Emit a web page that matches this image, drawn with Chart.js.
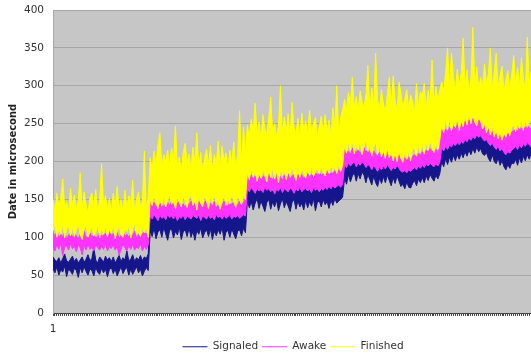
<!DOCTYPE html>
<html>
<head>
<meta charset="utf-8">
<script src="https://cdn.jsdelivr.net/npm/chart.js@4/dist/chart.umd.min.js"></script>
<style>
  html, body { margin: 0; padding: 0; background: #ffffff; overflow: hidden; }
  #wrap { width: 586px; height: 362px; }
</style>
</head>
<body>
<div id="wrap"><canvas id="chart" width="586" height="362"></canvas></div>
<script>
// Wake-up latency bands (microseconds): five load levels, 50 samples each.
// Each series is kept as its lower and upper envelope per sample.

const signaledLow = [
  58,53,61,50,57,54,62,48,58,55, 51,59,56,47,60,53,61,55,50,58,
  56,49,60,54,51,59,53,58,48,57, 60,52,58,49,55,61,52,57,60,50,
  58,51,56,61,53,58,49,55,60,56,
  108,101,112,98,107,110,100,113,104,96, 109,111,99,108,103,113,97,107,110,101,
  112,100,108,96,109,104,112,99,106,110, 101,111,97,108,102,110,104,113,96,107,
  109,100,111,104,98,108,110,102,112,106,
  148,139,147,136,145,151,138,148,141,134, 146,150,137,147,140,149,135,144,151,139,
  147,141,134,146,150,137,148,140,145,136, 149,139,147,141,151,135,146,148,140,150,
  143,147,138,149,142,151,145,148,150,153,
  178,170,183,173,181,185,174,184,177,186, 182,172,183,176,169,181,172,167,178,171,
  180,172,182,175,168,179,171,181,174,167, 170,164,173,166,165,171,175,168,177,172,
  179,172,181,175,183,178,174,182,177,184,
  200,193,204,196,206,199,208,201,209,203, 211,205,213,207,215,209,217,211,219,213,
  217,210,208,212,204,200,209,200,197,205, 195,201,193,189,196,191,198,197,203,195,
  205,198,207,201,209,203,211,205,212,206
];

const signaledHigh = [
  74,70,68,73,66,72,78,69,67,71, 75,68,72,66,70,74,67,71,77,69,
  72,86,70,66,74,71,67,75,70,73, 68,74,66,71,76,68,73,70,82,69,
  71,77,68,73,70,76,69,74,72,78,
  136,131,128,133,127,130,134,126,132,129, 125,131,128,134,127,130,133,126,129,132,
  128,135,127,130,126,133,129,131,127,134, 130,126,132,128,135,129,131,127,133,130,
  128,134,129,132,127,131,135,130,133,136,
  170,166,163,168,164,161,167,163,165,169, 162,166,164,160,167,163,165,168,162,166,
  164,169,163,167,165,170,166,171,164,168, 166,163,169,165,171,167,164,170,168,166,
  172,169,167,171,168,173,170,174,171,175,
  204,200,202,198,203,206,201,204,199,202, 205,200,203,201,197,202,199,196,200,197,
  201,198,203,199,195,200,197,202,198,194, 193,195,192,196,194,197,199,196,201,198,
  202,199,204,201,205,202,200,204,201,206,
  230,226,232,228,234,231,236,233,235,232, 237,234,238,236,240,238,242,240,243,241,
  245,242,239,241,237,234,236,232,229,231, 227,230,225,222,226,224,228,230,233,229,
  234,231,236,233,237,234,232,236,233,238
];

const awakeLow = [
  86,82,90,84,92,76,87,89,83,91, 85,88,81,90,86,77,89,83,91,84,
  87,82,90,86,83,89,84,92,82,88, 85,90,83,88,76,84,91,86,82,89,
  84,90,83,87,85,91,82,88,84,90,
  128,124,130,126,122,129,125,127,123,130, 126,128,124,129,122,127,125,130,123,128,
  126,124,129,127,125,130,122,128,126,124, 129,125,127,123,130,126,128,124,129,125,
  127,130,124,128,126,129,125,127,130,128,
  164,160,166,162,158,165,161,163,159,166, 162,164,160,165,157,163,161,166,159,164,
  162,160,165,163,158,164,161,166,160,163, 165,161,164,159,166,162,164,160,165,162,
  166,163,167,164,168,165,167,169,166,170,
  196,192,198,194,197,200,193,198,195,199, 197,192,196,194,189,195,191,187,193,189,
  194,190,196,192,188,193,190,195,191,187, 186,188,185,189,187,190,192,189,194,191,
  195,192,197,194,198,195,193,197,194,199,
  218,214,220,216,222,219,224,221,225,222, 227,224,229,226,231,228,233,230,235,232,
  234,230,227,229,224,221,224,219,216,220, 214,217,212,209,213,211,215,217,220,216,
  222,218,224,220,225,222,219,223,220,226
];

const awakeHigh = [
  106,102,108,99,104,101,107,98,103,105, 100,106,102,97,104,101,108,99,103,106,
  100,104,98,102,107,101,103,105,99,108, 102,105,100,106,98,103,107,101,104,100,
  106,102,108,99,104,101,105,107,103,109,
  148,143,146,140,145,142,147,139,144,146, 141,148,143,140,145,147,142,144,139,146,
  143,148,141,145,142,147,144,140,146,149, 143,145,141,147,144,139,146,142,148,144,
  141,146,143,147,145,142,148,144,146,150,
  184,179,182,176,181,178,183,175,180,182, 177,184,179,176,181,183,178,180,175,182,
  179,184,177,181,183,186,180,185,182,178, 181,184,179,183,180,185,182,186,181,184,
  183,187,182,185,184,188,186,189,185,190,
  216,211,214,209,217,219,212,216,210,215, 218,212,216,213,208,214,210,206,212,207,
  211,208,213,209,205,210,207,212,208,204, 203,205,202,206,204,207,209,206,211,208,
  213,210,215,212,217,214,211,216,213,218,
  242,237,243,239,245,241,247,243,249,245, 251,247,253,250,255,252,257,254,258,255,
  257,253,250,252,247,245,248,243,240,244, 238,241,236,233,237,235,239,241,244,240,
  246,242,247,244,248,245,243,247,244,249
];

const finishedLow = [
  108,116,100,112,104,118,99,110,115,102, 113,101,109,117,103,97,111,116,100,107,
  114,102,106,118,99,112,104,115,101,110, 105,117,98,109,114,103,100,112,107,116,
  99,111,118,103,108,101,113,106,115,100,
  150,142,156,145,138,152,141,155,140,148, 157,143,150,137,153,146,140,155,148,139,
  151,156,142,149,136,154,145,140,156,147, 138,153,146,157,141,150,137,148,155,142,
  152,144,158,147,139,155,149,143,157,150,
  185,176,191,180,187,174,184,178,190,181, 173,188,179,192,177,186,172,189,181,190,
  176,187,180,193,183,175,189,179,191,184, 178,190,182,194,180,187,191,183,195,186,
  181,192,185,196,187,193,184,197,188,195,
  222,211,226,214,228,210,221,215,227,209, 220,229,213,224,207,219,226,210,222,206,
  216,204,219,205,214,201,211,200,215,204, 199,213,203,214,201,216,218,207,221,212,
  223,210,225,215,228,218,212,226,216,229,
  250,238,256,243,258,240,253,245,260,241, 255,246,261,248,263,250,262,252,247,258,
  253,243,250,238,247,235,244,233,241,230, 239,228,238,232,242,234,245,248,239,251,
  243,253,241,255,245,252,257,244,254,242
];

const finishedHigh = [
  150,136,158,141,152,177,139,147,133,165, 143,156,138,149,185,136,160,144,131,152,
  158,140,163,134,148,197,142,155,137,151, 133,158,141,167,138,150,135,162,140,155,
  146,175,132,151,160,139,148,214,136,154,
  205,190,214,196,222,238,192,209,199,215, 194,218,201,247,193,206,188,212,224,197,
  210,191,219,200,238,193,212,189,205,216, 196,221,190,209,198,227,192,220,201,211,
  190,215,198,226,193,209,267,195,246,213,
  248,233,256,240,277,236,252,230,262,244, 235,258,285,238,250,232,247,300,236,259,
  241,263,233,278,245,237,257,231,264,242, 254,236,268,239,250,258,234,246,260,238,
  262,240,255,233,271,246,300,238,259,268,
  282,268,291,275,311,270,286,266,293,279, 271,288,327,268,297,274,343,281,270,295,
  276,266,289,311,272,313,281,267,305,290, 271,283,295,269,288,279,265,303,274,292,
  286,303,270,294,278,334,276,299,281,295,
  305,292,318,350,298,343,312,295,322,300, 316,363,297,321,294,309,377,301,325,296,
  311,298,329,303,316,350,296,318,343,299, 313,326,294,308,320,297,315,340,301,324,
  298,337,310,295,364,303,319,296,329,306
];

const sampleIndex = signaledLow.map((_, i) => String(i + 1));
const yTicks = { min: 0, max: 400, step: 50 };

const SERIES_COLORS = { signaled: '#16168c', awake: '#ff33ff', finished: '#ffff00' };

// Grey plot background behind the series
const plotBackground = {
  id: 'plotBackground',
  beforeDraw(chart) {
    const { ctx, chartArea: a } = chart;
    ctx.save();
    ctx.fillStyle = '#c6c6c6';
    ctx.fillRect(a.left, a.top, a.right - a.left, a.bottom - a.top);
    ctx.restore();
  }
};

// One edge of a band; the upper edge fills down to the lower edge drawn just before it
function edge(label, data, color, order, isUpper) {
  return {
    label, data, order,
    showInLegend: isUpper,
    borderColor: color,
    backgroundColor: color,
    borderWidth: 1,
    borderJoinStyle: 'bevel',
    pointRadius: 0,
    pointHoverRadius: 0,
    tension: 0,
    fill: isUpper ? '-1' : false
  };
}

new Chart(document.getElementById('chart'), {
  type: 'line',
  data: {
    labels: sampleIndex,
    datasets: [
      edge('Signaled (low)', signaledLow, SERIES_COLORS.signaled, 2, false),
      edge('Signaled', signaledHigh, SERIES_COLORS.signaled, 2, true),
      edge('Awake (low)', awakeLow, SERIES_COLORS.awake, 1, false),
      edge('Awake', awakeHigh, SERIES_COLORS.awake, 1, true),
      edge('Finished (low)', finishedLow, SERIES_COLORS.finished, 0, false),
      edge('Finished', finishedHigh, SERIES_COLORS.finished, 0, true)
    ]
  },
  options: {
    responsive: false,
    animation: false,
    events: [],
    layout: { padding: { top: 10, left: 0, right: 0, bottom: 0 } },
    plugins: {
      legend: {
        position: 'bottom',
        labels: {
          usePointStyle: true,
          pointStyle: 'line',
          pointStyleWidth: 25,
          padding: 4,
          color: '#333333',
          font: { family: 'DejaVu Sans', size: 10.5 },
          filter: (item, data) => data.datasets[item.datasetIndex].showInLegend,
          sort: (a, b) => a.datasetIndex - b.datasetIndex
        }
      },
      tooltip: { enabled: false }
    },
    scales: {
      x: {
        type: 'category',
        offset: false,
        grid: { display: true, drawOnChartArea: false, drawTicks: true, tickLength: 3, color: '#454545' },
        border: { display: true, color: '#454545', width: 1 },
        ticks: {
          autoSkip: false,
          maxRotation: 0,
          padding: 7,
          color: '#333333',
          font: { family: 'DejaVu Sans', size: 10.5 },
          callback: (v, i) => (i === 0 ? sampleIndex[0] : '')
        },
        afterFit(scale) { scale.height = 24.5; }
      },
      y: {
        min: yTicks.min,
        max: yTicks.max,
        grid: { color: '#a6a6a6', drawTicks: true, tickLength: 9, tickColor: 'rgba(0,0,0,0)' },
        border: { display: true, color: '#a6a6a6' },
        ticks: {
          stepSize: yTicks.step,
          padding: 0,
          color: '#333333',
          font: { family: 'DejaVu Sans', size: 10.5 }
        },
        title: {
          display: true,
          text: 'Date in microsecond',
          color: '#222222',
          padding: { top: 7, bottom: 0 },
          font: { family: 'DejaVu Sans', size: 10, weight: 'bold' }
        },
        afterFit(scale) { scale.width = 53; }
      },
      yRight: {
        type: 'linear',
        position: 'right',
        display: true,
        grid: { display: false },
        border: { display: false },
        ticks: { display: false },
        afterFit(scale) { scale.width = 49; }
      }
    }
  },
  plugins: [plotBackground]
});
</script>
</body>
</html>
